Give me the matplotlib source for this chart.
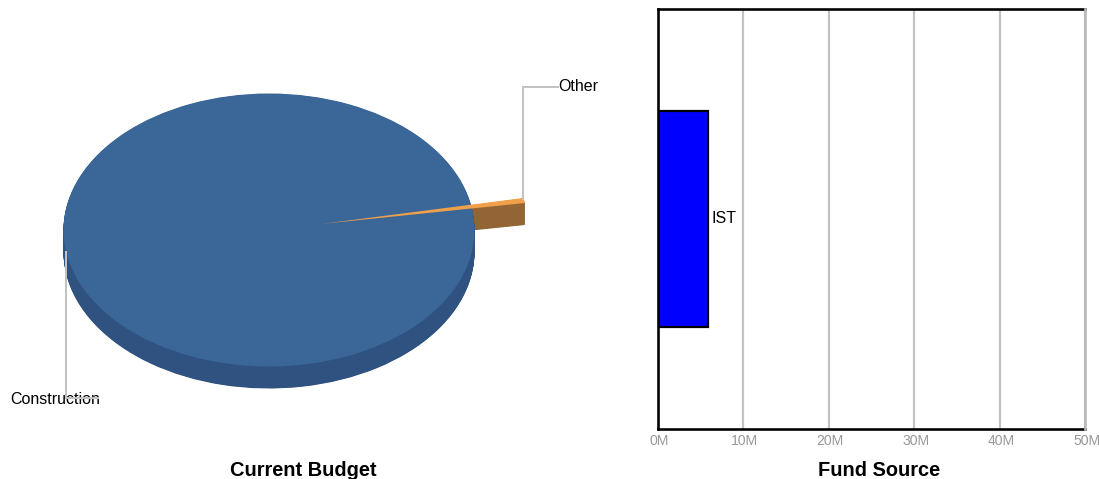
"""Current budget pie with a fake 3D edge, next to the fund source bar chart."""

import matplotlib
matplotlib.use("Agg")
import matplotlib.pyplot as plt
import matplotlib.transforms as mtrans
import numpy as np

plt.rcParams["font.family"] = ["Liberation Sans", "DejaVu Sans"]

W, H = 1099, 479
PX = 72 / 100  # points per pixel at dpi 100

budget_labels = ["Other", "Construction"]
budget_values = [0.6, 99.4]
budget_explode = [0.26, 0]

fund_labels = ["IST"]
fund_values = [5.8]
fund_ticks = [0, 10, 20, 30, 40, 50]
fund_tick_labels = ["0M", "10M", "20M", "30M", "40M", "50M"]

TOP_COLORS = ["#f0a04b", "#3a6698"]
SIDE_COLORS = ["#936534", "#2f5280"]
GRID = "#c2c2c2"


def axes_px(left, top, right, bottom):
    return fig.add_axes([left / W, 1 - bottom / H, (right - left) / W, (bottom - top) / H])


fig = plt.figure(figsize=(W / 100, H / 100), dpi=100)

# pie: unit circle squashed into the ellipse of the top face
RY = 136.5
DEPTH = 22
ax = axes_px(63.5, 93.5, 474.5, 366.5)
start = 8.8


def layer(colors, only, dy):
    wedges, _ = ax.pie(budget_values, explode=budget_explode, startangle=start,
                       colors=colors, center=(0, -dy / RY), radius=1)
    for i, w in enumerate(wedges):
        w.set_linewidth(0)
        if i != only:
            w.remove()


for d in np.arange(DEPTH, 0, -0.5):
    layer(SIDE_COLORS, 0, d)
for d in np.arange(DEPTH, 0, -0.5):
    layer(SIDE_COLORS, 1, d)
# the top face stays whole, the pulled out slice just lies on it
face, _ = ax.pie([sum(budget_values)], colors=TOP_COLORS[1:], radius=1)
face[0].set_linewidth(0)
layer(TOP_COLORS, 0, 0)
ax.set_aspect("auto")
ax.set_xlim(-1, 1)
ax.set_ylim(-1, 1)
ax.axis("off")

# bar chart
bx = axes_px(658, 9, 1085, 429)
bx.barh(fund_labels, fund_values, height=0.515, color="#0000ff", edgecolor="black",
        linewidth=2 * PX * 1.1, zorder=3)
bx.set_xlim(fund_ticks[0], fund_ticks[-1])
bx.set_ylim(-0.5, 0.5)
bx.set_xticks(fund_ticks, fund_tick_labels)
bx.set_yticks([])
bx.tick_params(axis="x", length=0, pad=3.3, labelsize=14 * PX, labelcolor="#999999")
shift = mtrans.ScaledTranslation(1.5 / 100, 0, fig.dpi_scale_trans)
for lbl in bx.get_xticklabels():
    lbl.set_transform(lbl.get_transform() + shift)
bx.grid(axis="x", color=GRID, linewidth=2.2 * PX, zorder=1)
bx.set_axisbelow(True)
for side in ("left", "top", "bottom"):
    bx.spines[side].set_linewidth(2.6 * PX)
    bx.spines[side].set_color("black")
    bx.spines[side].set_zorder(4)
bx.spines["right"].set_linewidth(2.6 * PX)
bx.spines["right"].set_color("#b8b8b8")
bx.spines["right"].set_zorder(5)
bx.annotate(fund_labels[0], (fund_values[0], 0), xytext=(4 * PX, 0.7), textcoords="offset points",
            va="center", ha="left", fontsize=16 * PX, color="black")

# overlay in pixel coordinates for the leader lines and captions
ov = fig.add_axes([0, 0, 1, 1], facecolor="none")
ov.set_xlim(0, W)
ov.set_ylim(H, 0)
ov.axis("off")
ov.text(558, 86, budget_labels[0], fontsize=16 * PX, va="center", ha="left", zorder=2)
ov.text(10, 399, budget_labels[1], fontsize=16 * PX, va="center", ha="left", zorder=2)
ov.plot([523, 523, 558], [199, 87, 87], color=GRID, lw=2 * PX, zorder=3,
        solid_joinstyle="miter")
ov.plot([66, 66, 98], [252, 398, 398], color=GRID, lw=2 * PX, zorder=3,
        solid_joinstyle="miter")
ov.text(303, 471, "Current Budget", fontsize=20 * PX, fontweight="bold", ha="center", va="center")
ov.text(879, 471, "Fund Source", fontsize=20 * PX, fontweight="bold", ha="center", va="center")

fig.savefig("out.png", dpi=100)
